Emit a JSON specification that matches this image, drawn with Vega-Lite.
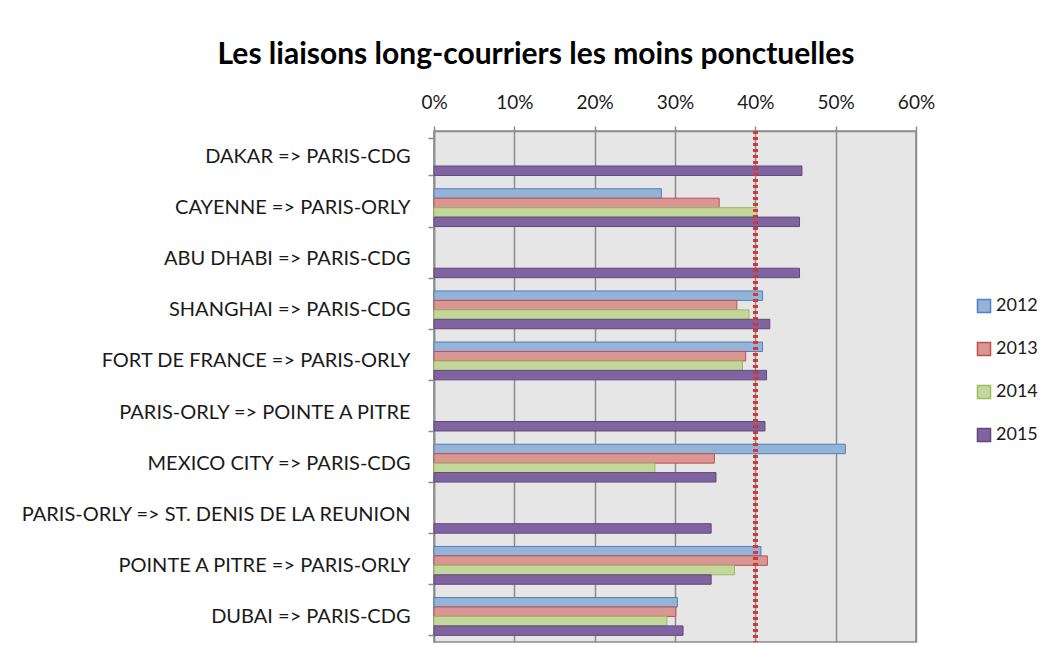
{
  "$schema": "https://vega.github.io/schema/vega-lite/v6.json",
  "width": 482,
  "height": 511,
  "autosize": "none",
  "padding": {"left": 434, "top": 131, "right": 137, "bottom": 18},
  "background": "white",
  "title": {
    "text": "Les liaisons long-courriers les moins ponctuelles",
    "font": "Lato",
    "fontSize": 30,
    "fontWeight": "bold",
    "color": "#000000",
    "anchor": "middle",
    "frame": "group",
    "dx": -139,
    "offset": 23
  },
  "config": {
    "view": {"fill": "#E6E6E6", "stroke": "#8C8C8C", "strokeWidth": 1.5},
    "font": "Lato"
  },
  "data": {
    "values": [
      {"route": "DAKAR => PARIS-CDG", "year": "2015", "value": 0.458},
      {"route": "CAYENNE => PARIS-ORLY", "year": "2012", "value": 0.283},
      {"route": "CAYENNE => PARIS-ORLY", "year": "2013", "value": 0.355},
      {"route": "CAYENNE => PARIS-ORLY", "year": "2014", "value": 0.402},
      {"route": "CAYENNE => PARIS-ORLY", "year": "2015", "value": 0.455},
      {"route": "ABU DHABI => PARIS-CDG", "year": "2015", "value": 0.455},
      {"route": "SHANGHAI => PARIS-CDG", "year": "2012", "value": 0.409},
      {"route": "SHANGHAI => PARIS-CDG", "year": "2013", "value": 0.377},
      {"route": "SHANGHAI => PARIS-CDG", "year": "2014", "value": 0.392},
      {"route": "SHANGHAI => PARIS-CDG", "year": "2015", "value": 0.418},
      {"route": "FORT DE FRANCE => PARIS-ORLY", "year": "2012", "value": 0.409},
      {"route": "FORT DE FRANCE => PARIS-ORLY", "year": "2013", "value": 0.388},
      {"route": "FORT DE FRANCE => PARIS-ORLY", "year": "2014", "value": 0.384},
      {"route": "FORT DE FRANCE => PARIS-ORLY", "year": "2015", "value": 0.414},
      {"route": "PARIS-ORLY => POINTE A PITRE", "year": "2015", "value": 0.412},
      {"route": "MEXICO CITY => PARIS-CDG", "year": "2012", "value": 0.512},
      {"route": "MEXICO CITY => PARIS-CDG", "year": "2013", "value": 0.349},
      {"route": "MEXICO CITY => PARIS-CDG", "year": "2014", "value": 0.275},
      {"route": "MEXICO CITY => PARIS-CDG", "year": "2015", "value": 0.351},
      {"route": "PARIS-ORLY => ST. DENIS DE LA REUNION", "year": "2015", "value": 0.345},
      {"route": "POINTE A PITRE => PARIS-ORLY", "year": "2012", "value": 0.407},
      {"route": "POINTE A PITRE => PARIS-ORLY", "year": "2013", "value": 0.415},
      {"route": "POINTE A PITRE => PARIS-ORLY", "year": "2014", "value": 0.374},
      {"route": "POINTE A PITRE => PARIS-ORLY", "year": "2015", "value": 0.345},
      {"route": "DUBAI => PARIS-CDG", "year": "2012", "value": 0.303},
      {"route": "DUBAI => PARIS-CDG", "year": "2013", "value": 0.301},
      {"route": "DUBAI => PARIS-CDG", "year": "2014", "value": 0.290},
      {"route": "DUBAI => PARIS-CDG", "year": "2015", "value": 0.310}
    ]
  },
  "layer": [
    {
      "mark": {"type": "bar", "strokeWidth": 1},
      "encoding": {
        "y": {
          "field": "route",
          "type": "nominal",
          "sort": [
            "DAKAR => PARIS-CDG",
            "CAYENNE => PARIS-ORLY",
            "ABU DHABI => PARIS-CDG",
            "SHANGHAI => PARIS-CDG",
            "FORT DE FRANCE => PARIS-ORLY",
            "PARIS-ORLY => POINTE A PITRE",
            "MEXICO CITY => PARIS-CDG",
            "PARIS-ORLY => ST. DENIS DE LA REUNION",
            "POINTE A PITRE => PARIS-ORLY",
            "DUBAI => PARIS-CDG"
          ],
          "scale": {"paddingInner": 0.26, "paddingOuter": 0.13},
          "axis": {
            "title": null,
            "orient": "left",
            "tickBand": "extent",
            "domainColor": "#8C8C8C",
            "domainWidth": 1.5,
            "tickColor": "#8C8C8C",
            "tickWidth": 1.5,
            "tickSize": 6,
            "labelFont": "Lato",
            "labelFontSize": 20,
            "labelColor": "#1a1a1a",
            "labelPadding": 18,
            "labelLimit": 500
          }
        },
        "yOffset": {
          "field": "year",
          "type": "nominal",
          "scale": {"domain": ["2012", "2013", "2014", "2015"], "paddingInner": 0, "paddingOuter": 0}
        },
        "x": {
          "field": "value",
          "type": "quantitative",
          "scale": {"domain": [0, 0.6], "nice": false},
          "axis": {
            "title": null,
            "orient": "top",
            "format": ".0%",
            "values": [0, 0.1, 0.2, 0.3, 0.4, 0.5, 0.6],
            "grid": true,
            "gridColor": "#8C8C8C",
            "gridWidth": 1.5,
            "domainColor": "#8C8C8C",
            "domainWidth": 1.5,
            "tickColor": "#8C8C8C",
            "tickWidth": 1.5,
            "tickSize": 5,
            "labelFlush": false,
            "labelFont": "Lato",
            "labelFontSize": 19,
            "labelColor": "#1a1a1a",
            "labelPadding": 14
          }
        },
        "fill": {
          "field": "year",
          "type": "nominal",
          "scale": {"domain": ["2012", "2013", "2014", "2015"], "range": ["#95B3D7", "#D99694", "#C3D69B", "#8064A2"]},
          "legend": {
            "title": null,
            "orient": "none",
            "legendX": 541,
            "legendY": 166,
            "symbolType": "square",
            "symbolSize": 170,
            "symbolStrokeWidth": 1.5,
            "labelFont": "Lato",
            "labelFontSize": 18,
            "labelColor": "#1a1a1a",
            "rowPadding": 23,
            "labelOffset": 3
          }
        },
        "stroke": {
          "field": "year",
          "type": "nominal",
          "scale": {"domain": ["2012", "2013", "2014", "2015"], "range": ["#4F81BD", "#C0504D", "#9BBB59", "#5F497A"]},
          "legend": {
            "title": null,
            "orient": "none",
            "legendX": 541,
            "legendY": 166,
            "symbolType": "square",
            "symbolSize": 170,
            "symbolStrokeWidth": 1.5,
            "labelFont": "Lato",
            "labelFontSize": 18,
            "labelColor": "#1a1a1a",
            "rowPadding": 23,
            "labelOffset": 3
          }
        }
      }
    },
    {
      "mark": {"type": "rule", "color": "#D03A3A", "strokeWidth": 3.5, "strokeDash": [3, 3]},
      "encoding": {"x": {"datum": 0.4, "type": "quantitative"}}
    }
  ]
}
